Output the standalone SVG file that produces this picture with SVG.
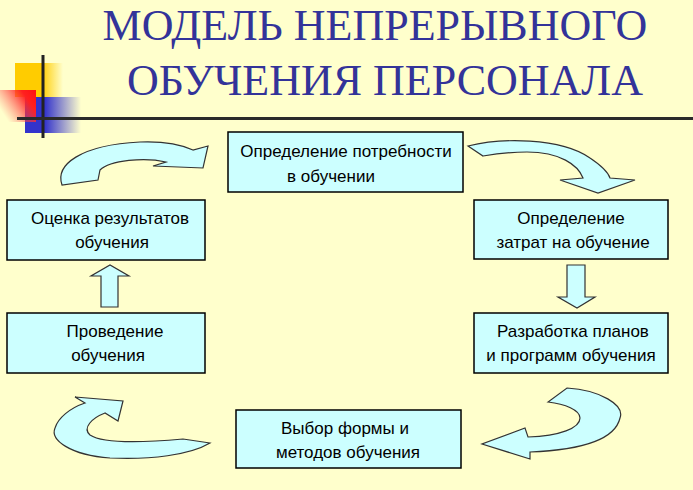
<svg xmlns="http://www.w3.org/2000/svg" width="693" height="490" viewBox="0 0 693 490">
<defs>
<linearGradient id="gY" x1="0" y1="0" x2="1" y2="0"><stop offset="0" stop-color="#FFCC00"/><stop offset="0.55" stop-color="#FFCC00"/><stop offset="1" stop-color="#FFCC00" stop-opacity="0"/></linearGradient>
<linearGradient id="gB" x1="0" y1="0" x2="1" y2="0"><stop offset="0" stop-color="#3333CC"/><stop offset="0.35" stop-color="#3333CC"/><stop offset="1" stop-color="#3333CC" stop-opacity="0"/></linearGradient>
<linearGradient id="gR" x1="1" y1="0" x2="0" y2="0.6"><stop offset="0" stop-color="#FF1010"/><stop offset="0.3" stop-color="#FF2020"/><stop offset="1" stop-color="#FF6060" stop-opacity="0"/></linearGradient>
</defs>
<style>
.bx{fill:#CCFFFF;stroke:#000;stroke-width:1.5}
.ar{fill:#CCFFFF;stroke:#333;stroke-width:1.2;stroke-linejoin:miter}
.t{font-family:"Liberation Sans",Arial,sans-serif;font-size:17px;fill:#000;text-anchor:middle}
.h{font-family:"Liberation Serif","Times New Roman",serif;font-size:44px;fill:#333399;text-anchor:middle}
</style>
<rect width="693" height="490" fill="#FFFFCC"/>
<g id="logo">
<rect x="15" y="63" width="48" height="34" fill="url(#gY)"/>
<rect x="25" y="97" width="56" height="36" fill="url(#gB)"/>
<rect x="0" y="90" width="36" height="32" fill="url(#gR)"/>
<line x1="43" y1="55" x2="43" y2="138" stroke="#222" stroke-width="3"/>
<line x1="17" y1="118.5" x2="693" y2="118.5" stroke="#2a2a2a" stroke-width="3"/>
</g>
<g id="title">
<text class="h" x="375" y="40">МОДЕЛЬ НЕПРЕРЫВНОГО</text>
<text class="h" x="385" y="95">ОБУЧЕНИЯ ПЕРСОНАЛА</text>
</g>
<g id="connectors">
<path class="ar" d="M62,185 C55,165 80,145 140,142 C165,141 182,145 193,150 L208,146 L203,168 L153,166 L166,162 C145,157 110,160 100,170 L98,180 Z"/>
<path class="ar" d="M468,146 C500,138 560,137 590,158 C602,166 608,172 610,178 L635,180 L598,193 L560,180 L583,178 C578,165 560,152 527,152 C510,152 495,154 483,156 Z"/>
<path class="ar" d="M567,388 C600,390 625,405 620,418 C615,440 580,450 530,452 L530,459 L482,444 L525,428 L528,437 C560,436 580,428 580,418 C580,410 565,404 548,402 Z"/>
<path class="ar" d="M85,403 L75,397 L123,401 L118,421 L105,413 C92,418 82,428 90,435 C105,445 150,442 183,439 L210,443 C190,455 150,460 110,458 C70,455 50,440 55,428 C58,418 70,408 85,403 Z"/>
<polygon class="ar" points="101,307 101,276 91,276 110,265 129,276 118,276 118,307"/>
<polygon class="ar" points="567,265 585,265 585,297 595,297 577,308 558,297 567,297"/>
</g>
<g id="n1"><rect class="bx" x="228" y="132" width="235" height="60"/><text class="t" x="346" y="157">Определение потребности</text><text class="t" x="331" y="182">в обучении</text></g>
<g id="n2"><rect class="bx" x="474" y="200" width="194" height="59"/><text class="t" x="571" y="224">Определение</text><text class="t" x="573" y="248">затрат на обучение</text></g>
<g id="n3"><rect class="bx" x="474" y="313" width="194" height="60"/><text class="t" x="573" y="337">Разработка планов</text><text class="t" x="571" y="361">и программ обучения</text></g>
<g id="n4"><rect class="bx" x="236" y="410" width="225" height="58"/><text class="t" x="345" y="434">Выбор формы и</text><text class="t" x="348" y="458">методов обучения</text></g>
<g id="n5"><rect class="bx" x="7" y="313" width="198" height="60"/><text class="t" x="115" y="337">Проведение</text><text class="t" x="108" y="361">обучения</text></g>
<g id="n6"><rect class="bx" x="7" y="200" width="198" height="60"/><text class="t" x="110" y="224">Оценка результатов</text><text class="t" x="112" y="248">обучения</text></g>
</svg>
